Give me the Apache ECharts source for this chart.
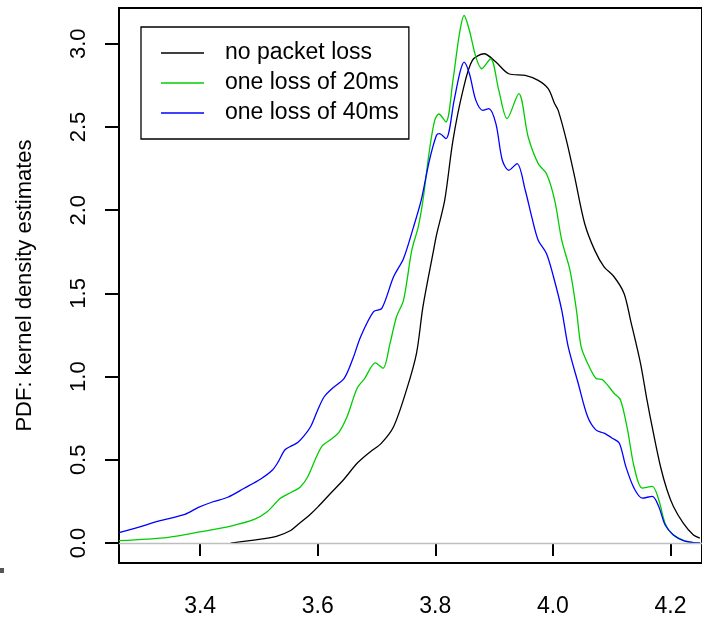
<!DOCTYPE html>
<html>
<head>
<meta charset="utf-8">
<script src="https://cdn.jsdelivr.net/npm/echarts@6/dist/echarts.min.js"></script>
<style>
  html, body { margin: 0; padding: 0; background: #fff; }
  #chart { width: 702px; height: 620px; }
</style>
</head>
<body>
<div id="chart"></div>
<script>
// x positions / density values
var noLossX = [3.452, 3.500, 3.531, 3.554, 3.566, 3.588, 3.600, 3.622, 3.645, 3.667, 3.690, 3.708,
  3.729, 3.751, 3.768, 3.779, 3.796, 3.802, 3.816, 3.830, 3.847, 3.863, 3.883, 3.903, 3.925, 3.953,
  3.975, 3.992, 4.003, 4.009, 4.023, 4.037, 4.054, 4.071, 4.087, 4.104, 4.121, 4.132, 4.149, 4.160,
  4.171, 4.183, 4.194, 4.205, 4.222, 4.239, 4.250];
var noLossY = [0.0, 0.022, 0.042, 0.075, 0.11, 0.175, 0.216, 0.299, 0.385, 0.479, 0.55, 0.599,
  0.699, 0.92, 1.14, 1.42, 1.74, 1.85, 2.06, 2.42, 2.72, 2.90, 2.94, 2.89, 2.82, 2.81,
  2.78, 2.73, 2.64, 2.60, 2.42, 2.20, 1.92, 1.76, 1.66, 1.60, 1.50, 1.34, 1.08, 0.86,
  0.66, 0.46, 0.32, 0.22, 0.118, 0.048, 0.03];

var loss20X = [3.262, 3.346, 3.402, 3.452, 3.492, 3.514, 3.537, 3.555, 3.570, 3.583, 3.598, 3.608,
  3.622, 3.636, 3.650, 3.667, 3.680, 3.698, 3.711, 3.723, 3.734, 3.746, 3.760, 3.771, 3.779,
  3.790, 3.799, 3.806, 3.818, 3.830, 3.841, 3.849, 3.858, 3.869, 3.879, 3.894, 3.908, 3.922, 3.942,
  3.958, 3.975, 3.989, 4.003, 4.015, 4.029, 4.040, 4.048, 4.059, 4.073, 4.085, 4.104, 4.115, 4.127,
  4.138, 4.152, 4.169, 4.180, 4.191, 4.205, 4.227, 4.239, 4.250];
var loss20Y = [0.014, 0.034, 0.068, 0.102, 0.142, 0.188, 0.27, 0.305, 0.335, 0.398, 0.52, 0.585,
  0.622, 0.665, 0.76, 0.93, 0.99, 1.083, 1.05, 1.20, 1.36, 1.46, 1.76, 1.90, 2.06,
  2.36, 2.54, 2.578, 2.53, 2.78, 3.06, 3.17, 3.08, 2.92, 2.85, 2.91, 2.72, 2.55, 2.70,
  2.44, 2.28, 2.22, 2.06, 1.82, 1.64, 1.40, 1.18, 1.08, 0.99, 0.98, 0.90, 0.86, 0.68,
  0.46, 0.33, 0.34, 0.26, 0.118, 0.048, 0.01, 0.003, 0.001];

var loss40X = [3.262, 3.296, 3.329, 3.374, 3.397, 3.422, 3.447, 3.475, 3.503, 3.523, 3.533, 3.544,
  3.556, 3.566, 3.577, 3.588, 3.600, 3.611, 3.625, 3.645, 3.660, 3.673, 3.695, 3.709, 3.729, 3.746,
  3.763, 3.776, 3.790, 3.802, 3.807, 3.818, 3.832, 3.842, 3.849, 3.858, 3.869, 3.881, 3.891, 3.903,
  3.914, 3.925, 3.939, 3.953, 3.964, 3.975, 3.989, 4.001, 4.015, 4.026, 4.043, 4.059, 4.073, 4.087,
  4.101, 4.113, 4.124, 4.138, 4.152, 4.169, 4.180, 4.191, 4.205, 4.222, 4.239, 4.250];
var loss40Y = [0.062, 0.096, 0.132, 0.172, 0.214, 0.248, 0.275, 0.329, 0.385, 0.439, 0.489, 0.559,
  0.585, 0.604, 0.645, 0.70, 0.80, 0.879, 0.93, 0.99, 1.11, 1.24, 1.39, 1.41, 1.60, 1.71,
  1.90, 2.06, 2.30, 2.45, 2.46, 2.43, 2.66, 2.83, 2.89, 2.82, 2.66, 2.60, 2.61, 2.52,
  2.30, 2.24, 2.28, 2.12, 1.96, 1.82, 1.74, 1.60, 1.40, 1.18, 0.96, 0.76, 0.68, 0.66,
  0.63, 0.60, 0.46, 0.33, 0.27, 0.28, 0.22, 0.108, 0.048, 0.014, 0.003, 0.001];

var xTicks = [3.4, 3.6, 3.8, 4.0, 4.2];
var yTicks = [0, 0.5, 1.0, 1.5, 2.0, 2.5, 3.0];
var names = ['no packet loss', 'one loss of 20ms', 'one loss of 40ms'];

function pairs(xs, ys) {
  return xs.map(function (x, i) { return [x, ys[i]]; });
}

var FONT = '"Liberation Sans", Arial, sans-serif';
var chart = echarts.init(document.getElementById('chart'));

function curve(name, color, data, extra) {
  var s = {
    name: name,
    type: 'line',
    data: data,
    smooth: 0.3,
    symbol: 'none',
    lineStyle: { color: color, width: 1.3 },
    itemStyle: { color: color },
    silent: true,
    animation: false
  };
  return Object.assign(s, extra || {});
}

chart.setOption({
  animation: false,
  grid: {
    left: 119, top: 8, width: 590, height: 555,
    show: true, borderColor: '#000', borderWidth: 2, backgroundColor: '#fff'
  },
  legend: {
    orient: 'vertical',
    left: 141, top: 27,
    padding: [11, 10, 11, 20],
    itemGap: 0,
    icon: 'rect',
    itemWidth: 43,
    itemHeight: 1.4,
    borderColor: '#000',
    borderWidth: 1.3,
    borderRadius: 0,
    backgroundColor: '#fff',
    data: names,
    textStyle: { fontFamily: FONT, fontSize: 23, color: '#000', padding: [0, 0, 0, 16], lineHeight: 30 }
  },
  xAxis: {
    type: 'value',
    min: 3.262, max: 4.2536,
    axisLine: { show: false },
    splitLine: { show: false },
    axisTick: { show: true, length: 13, customValues: xTicks, lineStyle: { color: '#000', width: 2 } },
    axisLabel: {
      customValues: xTicks, margin: 32, color: '#000', fontFamily: FONT, fontSize: 23,
      formatter: function (v) { return v.toFixed(1); }
    }
  },
  yAxis: {
    type: 'value',
    min: -0.12, max: 3.215,
    name: 'PDF: kernel density estimates',
    nameLocation: 'middle',
    nameGap: 83,
    nameTextStyle: { fontFamily: FONT, fontSize: 22, color: '#000' },
    axisLine: { show: false },
    splitLine: { show: false },
    axisTick: { show: true, length: 14, customValues: yTicks, lineStyle: { color: '#000', width: 2 } },
    axisLabel: {
      customValues: yTicks, rotate: 90, margin: 29, color: '#000', fontFamily: FONT, fontSize: 22,
      formatter: function (v) { return v.toFixed(1); }
    }
  },
  graphic: [{
    type: 'rect', left: 0, top: 568, shape: { width: 4, height: 5 }, style: { fill: '#555' }
  }],
  series: [
    curve(names[0], '#000000', pairs(noLossX, noLossY), {
      markLine: {
        silent: true, symbol: 'none', label: { show: false },
        lineStyle: { color: '#bebebe', type: 'solid', width: 1.3 },
        data: [{ yAxis: 0 }]
      }
    }),
    curve(names[1], '#00CD00', pairs(loss20X, loss20Y)),
    curve(names[2], '#0000FF', pairs(loss40X, loss40Y))
  ]
});
</script>
</body>
</html>
